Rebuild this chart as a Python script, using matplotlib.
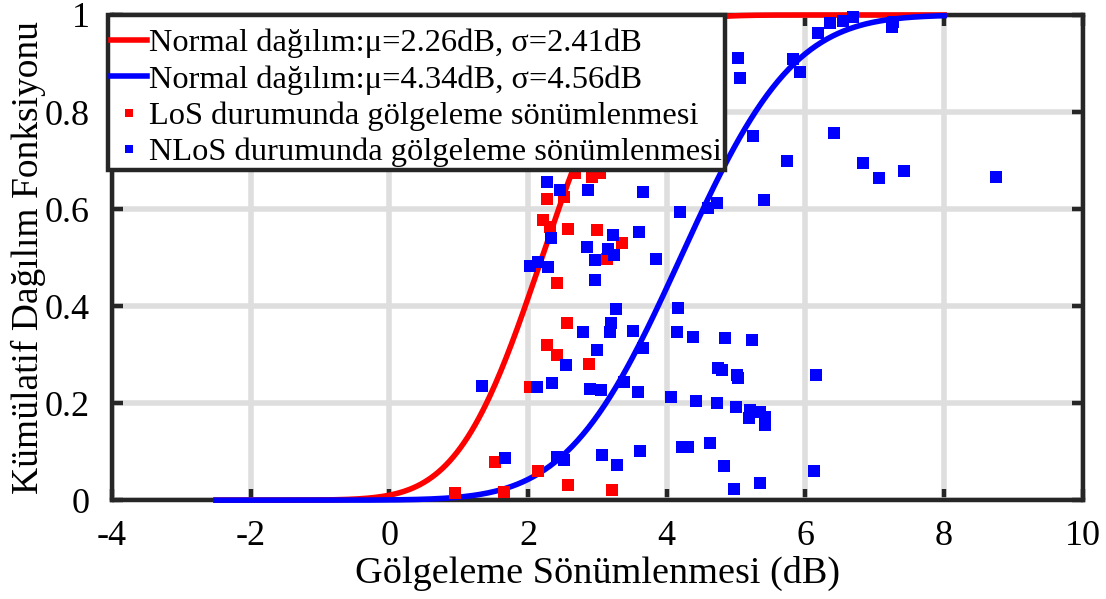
import math
import numpy as np
import matplotlib
matplotlib.use("Agg")
import matplotlib.pyplot as plt

plt.rcParams["font.family"] = ["Liberation Serif", "DejaVu Serif"]
plt.rcParams["axes.unicode_minus"] = False

# fitted normal CDF parameters (as drawn)
los_mu, los_sigma = 2.2, 0.95
nlos_mu, nlos_sigma = 4.2, 1.28
curve_range = (-2.5, 8.0)

los_label = "Normal dağılım:μ=2.26dB, σ=2.41dB"
nlos_label = "Normal dağılım:μ=4.34dB, σ=4.56dB"

los_x = [0.95, 1.65, 1.52, 2.14, 2.57, 3.21, 2.27, 2.42, 2.88, 2.03, 2.27, 2.52,
         2.21, 2.31, 2.57, 2.99, 3.14, 2.42, 2.56, 2.92, 3.04, 2.68, 3.35]
los_y = [0.014, 0.016, 0.078, 0.06, 0.031, 0.021, 0.32, 0.30, 0.28, 0.233, 0.62, 0.625,
         0.577, 0.563, 0.559, 0.557, 0.497, 0.447, 0.365, 0.666, 0.674, 0.674, 0.53]

nlos_x = [1.33, 1.67, 2.13, 2.34, 2.55, 2.99, 2.79, 3.18, 2.89, 3.05, 2.42, 2.52,
          3.06, 3.28, 2.27, 2.46, 2.86, 2.33, 2.03, 2.14, 2.29, 2.85, 3.22, 3.15,
          2.96, 3.24, 2.96, 3.2, 3.66, 4.19, 4.59, 4.72, 5.40, 3.60, 3.84, 3.27,
          4.16, 3.51, 4.15, 4.38, 4.84, 5.23, 3.66, 3.38, 3.58, 4.06, 4.42, 4.72,
          5.0, 5.2, 5.34, 5.42, 5.18, 5.42, 4.74, 4.8, 5.02, 5.03, 3.61, 4.22,
          4.30, 4.62, 4.82, 4.97, 5.34, 5.03, 5.05, 5.82, 5.92, 6.18, 6.35, 6.54,
          6.68, 7.25, 7.27, 5.24, 5.73, 6.41, 6.83, 7.06, 7.42, 8.75, 6.15, 6.12]
nlos_y = [0.235, 0.087, 0.233, 0.241, 0.278, 0.31, 0.347, 0.347, 0.23, 0.227, 0.089, 0.082,
          0.093, 0.072, 0.656, 0.639, 0.639, 0.54, 0.483, 0.49, 0.48, 0.522, 0.546, 0.517,
          0.495, 0.505, 0.453, 0.365, 0.635, 0.594, 0.602, 0.612, 0.618, 0.553, 0.497, 0.393,
          0.396, 0.349, 0.347, 0.336, 0.334, 0.33, 0.313, 0.243, 0.223, 0.213, 0.204, 0.2,
          0.192, 0.185, 0.181, 0.171, 0.169, 0.155, 0.272, 0.268, 0.258, 0.252, 0.101, 0.109,
          0.109, 0.118, 0.07, 0.023, 0.035, 0.911, 0.87, 0.909, 0.882, 0.963, 0.983, 0.988,
          0.996, 0.975, 0.985, 0.75, 0.70, 0.757, 0.695, 0.664, 0.678, 0.666, 0.258, 0.06]

x_ticks = [-4, -2, 0, 2, 4, 6, 8, 10]
y_ticks = [0, 0.2, 0.4, 0.6, 0.8, 1]
y_tick_labels = ["0", "0.2", "0.4", "0.6", "0.8", "1"]


def norm_cdf(x, mu, sigma):
    return np.array([0.5 * (1 + math.erf((v - mu) / (sigma * math.sqrt(2)))) for v in x])


frame = "#262626"
fig = plt.figure(figsize=(11.06, 5.99), dpi=100)
ax = fig.add_axes([0.1013, 0.165, 0.8777, 0.81])

xs = np.linspace(curve_range[0], curve_range[1], 400)
ax.plot(xs, norm_cdf(xs, los_mu, los_sigma), color="#ff0000", lw=4, zorder=3,
        clip_on=False, label=los_label)
ax.plot(xs, norm_cdf(xs, nlos_mu, nlos_sigma), color="#0000ff", lw=4, zorder=3,
        clip_on=False, label=nlos_label)
ax.plot(los_x, los_y, "s", color="#ff0000", ms=8.5, mew=0, zorder=3.1,
        clip_on=False, label="LoS durumunda gölgeleme sönümlenmesi")
ax.plot(nlos_x, nlos_y, "s", color="#0000ff", ms=8.5, mew=0, zorder=3.2,
        clip_on=False, label="NLoS durumunda gölgeleme sönümlenmesi")

ax.set_xlim(-4, 10)
ax.set_ylim(0, 1)
ax.set_xticks(x_ticks)
ax.set_xticklabels([str(t) for t in x_ticks])
ax.set_yticks(y_ticks)
ax.set_yticklabels(y_tick_labels)
ax.grid(True, color="#dedede", lw=4, zorder=0)
ax.set_axisbelow(True)
for s in ax.spines.values():
    s.set_linewidth(3.2)
    s.set_color(frame)
ax.tick_params(direction="in", length=8, width=3.2, color=frame, labelsize=26,
               top=True, right=True)
ax.tick_params(axis="x", pad=14)
ax.tick_params(axis="y", pad=16)
ax.set_xlabel("Gölgeleme Sönümlenmesi (dB)", fontsize=27.5, labelpad=2)
ax.set_ylabel("Kümülatif Dağılım Fonksiyonu", fontsize=27, labelpad=-1)

# tiny blank title only adds a little room above the first row
leg = ax.legend(loc="upper left", bbox_to_anchor=(-0.004, 1.0), borderaxespad=0,
                fontsize=23.4, fancybox=False, framealpha=1, edgecolor=frame,
                borderpad=0.1, labelspacing=0.2, handlelength=1.1,
                handletextpad=0.06, markerscale=0.75,
                title=" ", title_fontsize=2.5)
leg.get_frame().set_linewidth(3.2)
leg.set_zorder(10)

fig.savefig("out.png", dpi=100)
